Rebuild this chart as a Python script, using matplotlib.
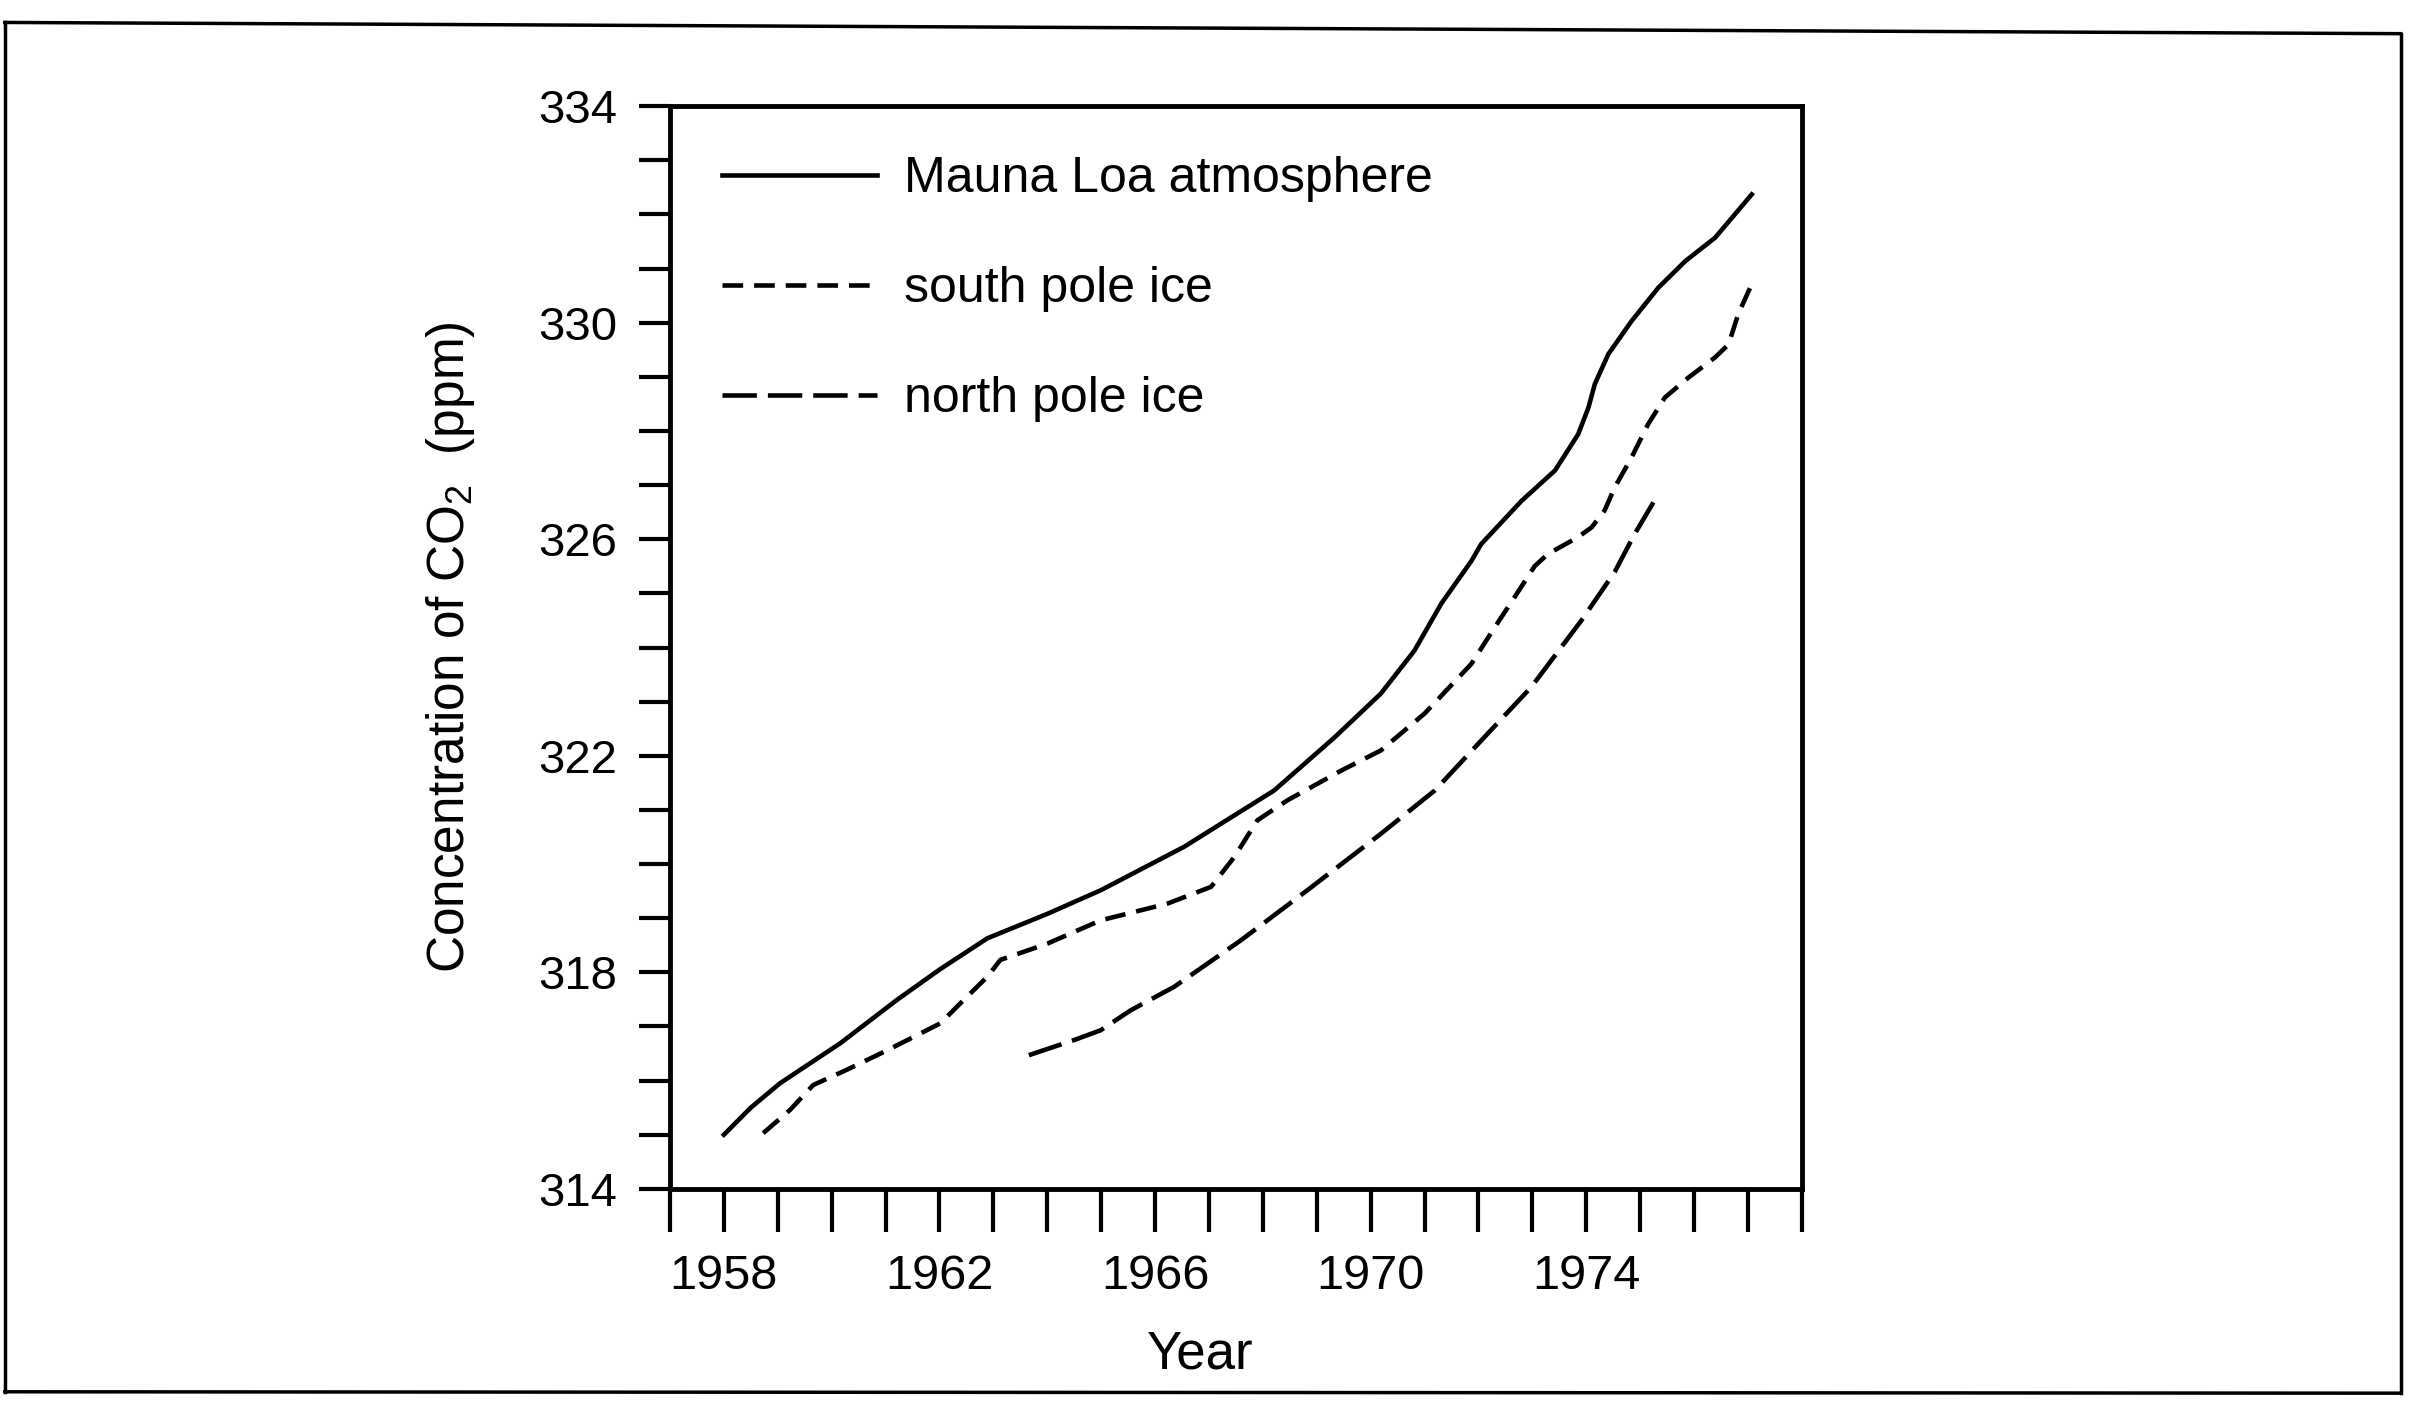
import matplotlib
matplotlib.use('Agg')
import matplotlib.pyplot as plt
from matplotlib.lines import Line2D
from matplotlib.ticker import MultipleLocator, FixedLocator

# values
ml_year = [1958.0, 1958.5, 1959.04, 1960.16, 1961.21, 1962.0, 1962.89, 1964.0, 1965.0,
           1966.54, 1968.21, 1969.33, 1970.19, 1970.81, 1971.31, 1971.87, 1972.05,
           1972.8, 1973.42, 1973.85, 1974.04, 1974.16, 1974.41, 1974.84, 1975.34,
           1975.84, 1976.39, 1977.07]
ml_co2 = [315.0, 315.5, 315.95, 316.69, 317.49, 318.05, 318.63, 319.08, 319.52,
          320.32, 321.36, 322.34, 323.15, 323.94, 324.81, 325.6, 325.91,
          326.71, 327.27, 327.94, 328.43, 328.87, 329.42, 330.03, 330.65,
          331.14, 331.57, 332.37]

sp_year = [1958.73, 1959.23, 1959.66, 1960.28, 1961.03, 1962.02, 1962.45, 1962.89,
           1963.13, 1964.0, 1964.99, 1966.23, 1967.04, 1967.47, 1967.9, 1968.46,
           1969.46, 1970.19, 1971.0, 1971.87, 1972.3, 1972.67, 1973.04, 1973.29,
           1973.85, 1974.1, 1974.34, 1974.53, 1974.84, 1975.15, 1975.46, 1975.9,
           1976.39, 1976.64, 1976.82, 1977.07]
sp_co2 = [315.03, 315.46, 315.92, 316.2, 316.56, 317.06, 317.49, 317.92,
          318.23, 318.53, 318.96, 319.27, 319.58, 320.13, 320.81, 321.18,
          321.73, 322.1, 322.78, 323.7, 324.37, 324.93, 325.5, 325.73,
          326.04, 326.22, 326.53, 326.96, 327.51, 328.13, 328.62, 328.99,
          329.36, 329.6, 330.16, 330.71]

np_year = [1963.66, 1964.5, 1964.99, 1965.55, 1966.35, 1967.59, 1968.83, 1970.19,
           1971.19, 1972.05, 1972.98, 1973.91, 1974.53, 1974.9, 1975.34]
np_co2 = [316.47, 316.75, 316.93, 317.3, 317.73, 318.59, 319.52, 320.56,
          321.36, 322.28, 323.27, 324.5, 325.4, 326.1, 326.84]

labels = ['Mauna Loa atmosphere', 'south pole ice', 'north pole ice']
year_ticks = [1958, 1962, 1966, 1970, 1974]
co2_ticks = [314, 318, 322, 326, 330, 334]

plt.rcParams['font.family'] = ['Liberation Sans', 'DejaVu Sans']
plt.rcParams['mathtext.fontset'] = 'custom'
plt.rcParams['mathtext.rm'] = 'Liberation Sans'

fig = plt.figure(figsize=(24.15, 14.03), dpi=100)
ax = fig.add_axes([0.2774, 0.1526, 0.4687, 0.7717])

lw = 3.3
ax.plot(ml_year, ml_co2, color='black', lw=lw, label=labels[0])
ax.plot(sp_year, sp_co2, color='black', lw=lw, dashes=(4.5, 2.4), label=labels[1])
ax.plot(np_year, np_co2, color='black', lw=lw, dashes=(7.5, 2.4), label=labels[2])

ax.set_xlim(1957, 1978)
ax.set_ylim(314, 334)

ax.xaxis.set_major_locator(FixedLocator(year_ticks))
ax.xaxis.set_minor_locator(MultipleLocator(1))
ax.yaxis.set_major_locator(FixedLocator(co2_ticks))
ax.yaxis.set_minor_locator(MultipleLocator(1))

ax.tick_params(axis='both', which='both', direction='out', width=3, color='black')
ax.tick_params(axis='x', which='both', length=31, pad=16, labelsize=35)
ax.tick_params(axis='y', which='both', length=22, pad=16, labelsize=34)
ax.tick_params(top=False, right=False)

for s in ax.spines.values():
    s.set_linewidth(3.5)

ax.set_xlabel('Year', fontsize=38)
ax.xaxis.set_label_coords(0.468, -0.13)
ax.set_ylabel('Concentration of CO$_\\mathregular{2}$  (ppm)', fontsize=37)
ax.yaxis.set_label_coords(-0.17, 0.5)

ax.legend(loc='upper left', bbox_to_anchor=(0.046, 0.954), frameon=False,
          fontsize=36, handlelength=3.1, handletextpad=0.55, labelspacing=1.28,
          borderpad=0, borderaxespad=0)

# page frame around the figure
for xs, ys in [([0.002, 0.994], [0.984, 0.976]), ([0.994, 0.994], [0.976, 0.007]),
               ([0.994, 0.002], [0.007, 0.008]), ([0.002, 0.002], [0.008, 0.984])]:
    fig.add_artist(Line2D(xs, ys, transform=fig.transFigure, color='black', lw=2.5))

fig.savefig('out.png', dpi=100)
